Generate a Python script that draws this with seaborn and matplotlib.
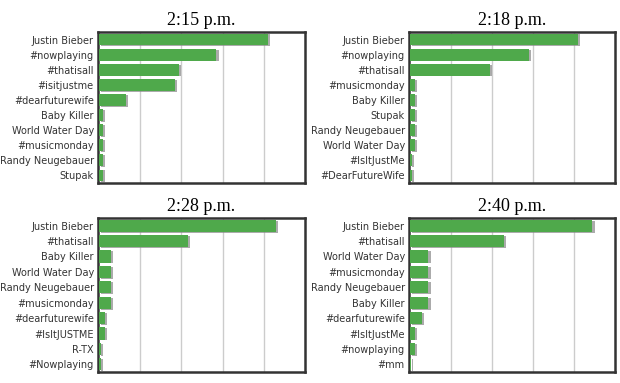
import matplotlib
matplotlib.use("Agg")
import matplotlib.pyplot as plt
import matplotlib.patheffects as pe
import seaborn as sns
import pandas as pd

titles = ["2:15 p.m.", "2:18 p.m.", "2:28 p.m.", "2:40 p.m."]

labels_215 = ["Justin Bieber", "#nowplaying", "#thatisall", "#isitjustme", "#dearfuturewife",
              "Baby Killer", "World Water Day", "#musicmonday", "Randy Neugebauer", "Stupak"]
values_215 = [82, 57, 39, 37, 13, 2, 2, 2, 2, 2]

labels_218 = ["Justin Bieber", "#nowplaying", "#thatisall", "#musicmonday", "Baby Killer",
              "Stupak", "Randy Neugebauer", "World Water Day", "#IsItJustMe", "#DearFutureWife"]
values_218 = [82, 58, 39, 2.5, 2.5, 2.5, 2.5, 2.5, 0.8, 0.8]

labels_228 = ["Justin Bieber", "#thatisall", "Baby Killer", "World Water Day", "Randy Neugebauer",
              "#musicmonday", "#dearfuturewife", "#IsItJUSTME", "R-TX", "#Nowplaying"]
values_228 = [86, 43, 6, 6, 6, 6, 3, 3, 1, 1]

labels_240 = ["Justin Bieber", "#thatisall", "World Water Day", "#musicmonday", "Randy Neugebauer",
              "Baby Killer", "#dearfuturewife", "#IsItJustMe", "#nowplaying", "#mm"]
values_240 = [89, 46, 9, 9, 9, 9, 6, 2.5, 2.5, 0.5]

panels = [(labels_215, values_215), (labels_218, values_218),
          (labels_228, values_228), (labels_240, values_240)]

x_max = 100
grid_ticks = [20, 40, 60, 80]

sns.set_theme(style="white")
fig = plt.figure(figsize=(6.2, 3.83), dpi=100)

positions = [
    [98/620, 1-183/383, 207/620, 151/383],
    [409/620, 1-183/383, 206/620, 151/383],
    [98/620, 1-372/383, 207/620, 154/383],
    [409/620, 1-372/383, 206/620, 154/383],
]

for (labels, values), title, pos in zip(panels, titles, positions):
    ax = fig.add_axes(pos)
    df = pd.DataFrame({"label": labels, "value": values})
    sns.barplot(data=df, x="value", y="label", orient="h", color="#4fa94b",
                saturation=1, width=0.78, ax=ax, zorder=3)
    for p in ax.patches:
        p.set_edgecolor("none")
        p.set_path_effects([pe.SimplePatchShadow(offset=(1.5, -0.6), shadow_rgbFace="#888888",
                                                 alpha=0.7), pe.Normal()])
    ax.set_xlim(-0.5, x_max)
    ax.set_xticks(grid_ticks)
    ax.set_xticklabels([])
    ax.tick_params(axis="x", length=0)
    ax.tick_params(axis="y", length=0, pad=3, labelsize=7.0, labelcolor="#333333")
    ax.grid(axis="x", color="#cccccc", linewidth=1, zorder=0)
    ax.set_axisbelow(True)
    ax.set_xlabel("")
    ax.set_ylabel("")
    for s in ax.spines.values():
        s.set_visible(True)
        s.set_color("#333333")
        s.set_linewidth(1.8)
    for t in ax.get_yticklabels():
        t.set_fontfamily("DejaVu Sans")
    ax.set_title(title, fontfamily="Liberation Serif", fontsize=13, pad=5, color="black")

fig.savefig("out.png", dpi=100)
